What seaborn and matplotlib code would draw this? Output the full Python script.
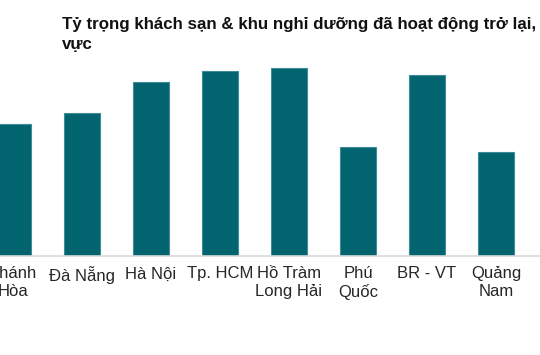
import matplotlib
matplotlib.use("Agg")
import matplotlib.pyplot as plt
import seaborn as sns
import pandas as pd

categories = ["Khánh\nHòa", "Đà Nẵng", "Hà Nội", "Tp. HCM", "Hồ Tràm\nLong Hải",
              "Phú\nQuốc", "BR - VT", "Quảng\nNam"]
values = [40.0, 43.3, 52.7, 56.0, 57.0, 33.0, 54.8, 31.5]
title_lines = ["Tỷ trọng khách sạn & khu nghỉ dưỡng đã hoạt động trở lại, theo khu", "vực"]

sns.set_theme(style="white")
plt.rcParams['font.family'] = ['Liberation Sans', 'DejaVu Sans']

df = pd.DataFrame({"cat": categories, "val": values})

fig = plt.figure(figsize=(5.4, 3.55), dpi=100)
ax = fig.add_axes([0, 99/355, 1, 206/355])
sns.barplot(data=df, x="cat", y="val", color="#02646F", width=0.51,
            edgecolor="#3d8c96", linewidth=0.8, saturation=1, ax=ax)
ax.set_xlim(-0.188, 7.638)
ax.set_ylim(0, 62.4)
for s in ["top", "right", "left"]:
    ax.spines[s].set_visible(False)
ax.spines["bottom"].set_color("#d9d9d9")
ax.spines["bottom"].set_linewidth(1.2)
ax.set_yticks([])
ax.set_xlabel("")
ax.set_ylabel("")
ax.tick_params(axis="x", length=0, pad=7.5, labelsize=12, labelcolor="#262626")
for lbl in ax.get_xticklabels():
    lbl.set_linespacing(1.2)

for i, line in enumerate(title_lines):
    fig.text(62/540, 1 - (29 + 20 * i)/355, line, ha="left", va="baseline",
             fontsize=12.15, fontweight="bold", color="#111111")

fig.savefig("out.png", dpi=100)
